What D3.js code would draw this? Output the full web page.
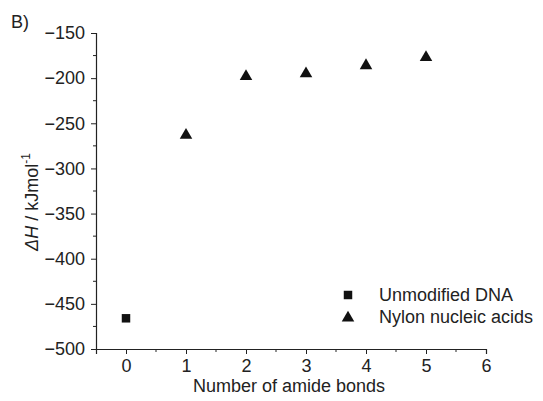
<!DOCTYPE html>
<html>
<head>
<meta charset="utf-8">
<script src="https://cdn.jsdelivr.net/npm/d3@7"></script>
<style>
  body { margin: 0; background: #fff; }
  svg { font-family: "Liberation Sans", Arial, sans-serif; }
</style>
</head>
<body>
<div id="chart"></div>
<script>
// data
var dnaX = [0];
var dnaY = [-466];
var nylonX = [1, 2, 3, 4, 5];
var nylonY = [-262, -197, -194, -185, -176];
var xTicks = [0, 1, 2, 3, 4, 5, 6];
var yTicks = [-500, -450, -400, -350, -300, -250, -200, -150];
var legendNames = ['Unmodified DNA', 'Nylon nucleic acids'];

var width = 543, height = 401;
var ink = '#222';
var fs = '18px';

var svg = d3.select('#chart').append('svg')
  .attr('width', width)
  .attr('height', height);

var x = d3.scaleLinear().domain([-0.5, 6]).range([96, 486]);
var y = d3.scaleLinear().domain([-500, -150]).range([349, 33]);

var fmt = function (d) { return String(d).replace('-', '\u2212'); };

// minor ticks
var xMinor = d3.range(0.5, 6, 1);
var yMinor = d3.range(-475, -150, 50);

var gx = svg.append('g')
  .attr('transform', 'translate(0,' + y(-500) + ')')
  .call(d3.axisBottom(x).tickValues(xTicks).tickSize(5).tickPadding(5).tickFormat(fmt));
gx.append('g').selectAll('line').data(xMinor).join('line')
  .attr('x1', function (d) { return x(d); })
  .attr('x2', function (d) { return x(d); })
  .attr('y1', 0).attr('y2', 3)
  .attr('stroke', ink);

var gy = svg.append('g')
  .attr('transform', 'translate(' + x(-0.5) + ',0)')
  .call(d3.axisLeft(y).tickValues(yTicks).tickSize(5).tickPadding(6).tickFormat(fmt));
gy.append('g').selectAll('line').data(yMinor).join('line')
  .attr('y1', function (d) { return y(d); })
  .attr('y2', function (d) { return y(d); })
  .attr('x1', 0).attr('x2', -3)
  .attr('stroke', ink);

svg.selectAll('.domain').attr('stroke', ink).attr('stroke-width', 1.2);
svg.selectAll('.tick line').attr('stroke', ink);
svg.selectAll('.tick text')
  .attr('fill', ink)
  .style('font-size', fs);

// points
var sq = d3.symbol().type(d3.symbolSquare).size(72);
var tri = d3.symbol().type(d3.symbolTriangle).size(68);

svg.append('g').selectAll('path').data(dnaX).join('path')
  .attr('d', sq)
  .attr('transform', function (d, i) { return 'translate(' + x(d) + ',' + y(dnaY[i]) + ')'; })
  .attr('fill', '#111');

svg.append('g').selectAll('path').data(nylonX).join('path')
  .attr('d', tri)
  .attr('transform', function (d, i) { return 'translate(' + x(d) + ',' + (y(nylonY[i]) + 1) + ')'; })
  .attr('fill', '#111');

// legend
var legend = svg.append('g').attr('transform', 'translate(348,295)');
var legendSyms = [sq, tri];
legendNames.forEach(function (name, i) {
  var row = legend.append('g').attr('transform', 'translate(0,' + (i * 22) + ')');
  row.append('path').attr('d', legendSyms[i]).attr('fill', '#111')
    .attr('transform', i === 1 ? 'translate(0,1)' : null);
  row.append('text')
    .attr('x', 31).attr('y', 6)
    .attr('fill', ink)
    .style('font-size', fs)
    .text(name);
});

// axis titles
svg.append('text')
  .attr('x', 289)
  .attr('y', 392)
  .attr('text-anchor', 'middle')
  .attr('fill', ink)
  .style('font-size', fs)
  .text('Number of amide bonds');

var yl = svg.append('text')
  .attr('transform', 'translate(38,202) rotate(-90)')
  .attr('text-anchor', 'middle')
  .attr('fill', ink)
  .style('font-size', fs);
yl.append('tspan').style('font-style', 'italic').text('\u0394H');
yl.append('tspan').text(' / kJmol');
yl.append('tspan').attr('dy', -8).style('font-size', '12px').text('-1');

svg.append('text')
  .attr('x', 11).attr('y', 28)
  .attr('fill', ink)
  .style('font-size', fs)
  .text('B)');
</script>
</body>
</html>
